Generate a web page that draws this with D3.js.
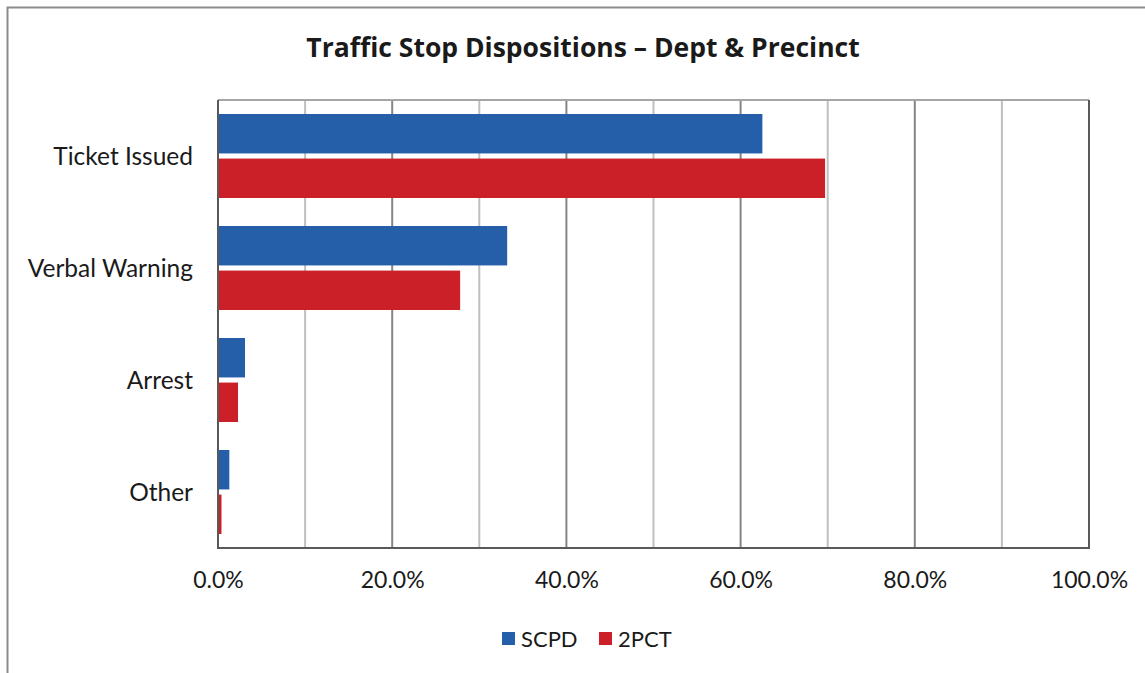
<!DOCTYPE html>
<html>
<head>
<meta charset="utf-8">
<script src="https://cdn.jsdelivr.net/npm/d3@7"></script>
<style>
  body { margin: 0; background: #fff; }
  svg { display: block; font-family: Lato, "Open Sans", sans-serif; }
</style>
</head>
<body>
<script>
/* ------------------------------- chart data ------------------------------- */
const categories = ["Ticket Issued", "Verbal Warning", "Arrest", "Other"];
const seriesNames = ["SCPD", "2PCT"];
const scpdValues = [62.5, 33.2, 3.1, 1.3];
const pctValues = [69.7, 27.8, 2.3, 0.4];
const tickValues = [0, 20, 40, 60, 80, 100];
const gridValues = [10, 20, 30, 40, 50, 60, 70, 80, 90];

const colors = { SCPD: "#255ea9", "2PCT": "#cc2029" };

/* --------------------------------- layout --------------------------------- */
const width = 1145, height = 673;
const plot = { left: 218, top: 100, right: 1089, bottom: 548 };

const svg = d3.select("body").append("svg")
    .attr("width", width)
    .attr("height", height);

// outer chart border (runs past the photo on the right and bottom)
svg.append("rect")
    .attr("x", 7.5).attr("y", 7.5)
    .attr("width", width + 20).attr("height", height + 20)
    .attr("fill", "#fff")
    .attr("stroke", "#8c8c8c")
    .attr("stroke-width", 2);

const x = d3.scaleLinear().domain([0, 100]).range([plot.left, plot.right]);
const y = d3.scaleBand().domain(categories).range([plot.top, plot.bottom]).paddingInner(0).paddingOuter(0);
const inner = d3.scaleBand().domain(seriesNames).range([14, y.bandwidth() - 14]).paddingInner(0.115);

// grid lines
svg.append("g").selectAll("line")
    .data(gridValues)
    .join("line")
    .attr("x1", d => x(d)).attr("x2", d => x(d))
    .attr("y1", plot.top).attr("y2", plot.bottom)
    .attr("stroke", d => d % 20 === 0 ? "#858585" : "#bfbfbf")
    .attr("stroke-width", 2);

// plot frame
svg.append("line")
    .attr("x1", plot.left).attr("x2", plot.right)
    .attr("y1", plot.top).attr("y2", plot.top)
    .attr("stroke", "#a6a6a6").attr("stroke-width", 2);
svg.append("path")
    .attr("d", `M${plot.left},${plot.top}V${plot.bottom}H${plot.right}V${plot.top}`)
    .attr("fill", "none")
    .attr("stroke", "#595959")
    .attr("stroke-width", 2);

// bars
const rows = categories.map((c, i) => ({ cat: c, values: [
    { name: "SCPD", value: scpdValues[i] },
    { name: "2PCT", value: pctValues[i] }
] }));

svg.append("g").selectAll("g")
    .data(rows)
    .join("g")
    .attr("transform", d => `translate(0,${y(d.cat)})`)
    .selectAll("rect")
    .data(d => d.values)
    .join("rect")
    .attr("x", x(0) + 1)
    .attr("y", d => inner(d.name))
    .attr("width", d => x(d.value) - x(0) - 1)
    .attr("height", inner.bandwidth())
    .attr("fill", d => colors[d.name]);

// category labels
svg.append("g").selectAll("text")
    .data(categories)
    .join("text")
    .attr("x", 193)
    .attr("y", d => y(d) + y.bandwidth() / 2)
    .attr("dy", "0.35em")
    .attr("text-anchor", "end")
    .attr("font-size", 24.5)
    .attr("fill", "#1a1a1a")
    .text(d => d);

// x tick labels
const xAxis = d3.axisBottom(x)
    .tickValues(tickValues)
    .tickFormat(d => d.toFixed(1) + "%")
    .tickSize(0)
    .tickPadding(0);
const ax = svg.append("g")
    .attr("transform", `translate(0,${plot.bottom + 24})`)
    .call(xAxis);
ax.select(".domain").remove();
ax.selectAll("text")
    .attr("font-size", 23)
    .attr("font-family", "Lato, 'Open Sans', sans-serif")
    .attr("fill", "#1a1a1a");

// title
svg.append("text")
    .attr("x", 583)
    .attr("y", 57)
    .attr("text-anchor", "middle")
    .attr("font-family", "'Open Sans', Lato, sans-serif")
    .attr("font-size", 26.5)
    .attr("font-weight", "bold")
    .attr("fill", "#1a1a1a")
    .text("Traffic Stop Dispositions \u2013 Dept & Precinct");

// legend
const legendX = [502, 599];
const legend = svg.append("g").selectAll("g")
    .data(seriesNames)
    .join("g")
    .attr("transform", (d, i) => `translate(${legendX[i]},632)`);
legend.append("rect")
    .attr("width", 13).attr("height", 13)
    .attr("fill", d => colors[d]);
legend.append("text")
    .attr("x", 19).attr("y", 7)
    .attr("dy", "0.35em")
    .attr("font-size", 22)
    .attr("fill", "#1a1a1a")
    .text(d => d);
</script>
</body>
</html>
